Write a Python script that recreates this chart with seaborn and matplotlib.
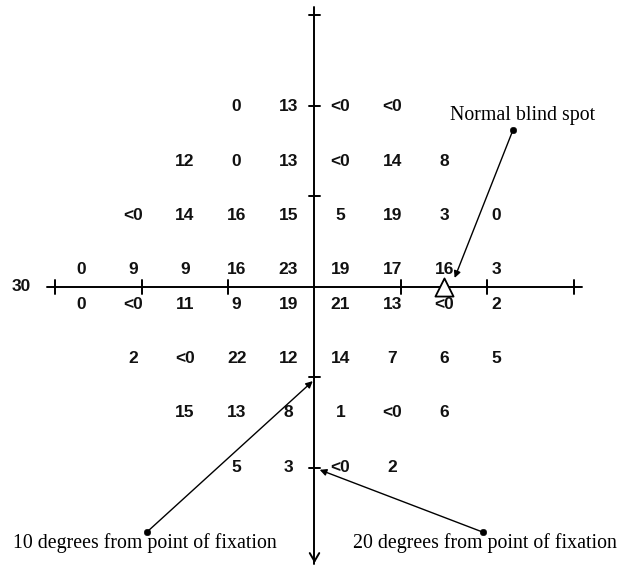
import matplotlib
matplotlib.use("Agg")
import matplotlib.pyplot as plt
import seaborn as sns
import pandas as pd
import numpy as np

# ---- data: visual field threshold values (dB), grid in degrees ----
col_deg = [-27, -21, -15, -9, -3, 3, 9, 15, 21, 27]
row_deg = [21, 15, 9, 3, -3, -9, -15, -21]
row_21 = ["", "", "", "0", "13", "<0", "<0", "", "", ""]
row_15 = ["", "", "12", "0", "13", "<0", "14", "8", "", ""]
row_9 = ["", "<0", "14", "16", "15", "5", "19", "3", "0", ""]
row_3 = ["0", "9", "9", "16", "23", "19", "17", "16", "3", ""]
row_m3 = ["0", "<0", "11", "9", "19", "21", "13", "<0", "2", ""]
row_m9 = ["", "2", "<0", "22", "12", "14", "7", "6", "5", ""]
row_m15 = ["", "", "15", "13", "8", "1", "<0", "6", "", ""]
row_m21 = ["", "", "", "5", "3", "<0", "2", "", "", ""]
rows = [row_21, row_15, row_9, row_3, row_m3, row_m9, row_m15, row_m21]

axis_ticks = [-30, -20, -10, 10, 20, 30]
blind_spot = (15, 0)
annotations = [
    ("Normal blind spot", (22.95, 17.35), (16.2, 1.0)),
    ("10 degrees from point of fixation", (-19.4, -27.1), (-0.2, -10.4)),
    ("20 degrees from point of fixation", (19.5, -27.1), (0.6, -20.2)),
]

# ---- figure ----
sns.set_style("white")
plt.rcParams['font.family'] = ['Liberation Sans Narrow', 'Liberation Sans', 'DejaVu Sans']
fig = plt.figure(figsize=(6.18, 5.67), dpi=100)
ax = fig.add_axes([0, 0, 1, 1])
ax.set_xlim(-36.36, 35.09)
ax.set_ylim(-30.94, 31.71)
ax.axis("off")

# axis cross with tick marks
segs = []
sid = 0
def add(x0, y0, x1, y1):
    global sid
    segs.append({"x": x0, "y": y0, "seg": sid})
    segs.append({"x": x1, "y": y1, "seg": sid})
    sid += 1

add(-30.9, 0, 30.9, 0)
add(0, 30.9, 0, -30.6)
for t in axis_ticks:
    add(t, -0.75, t, 0.75)
    if t != -30:
        add(-0.6, t, 0.6, t)
add(-0.55, -29.4, 0, -30.3)
add(0.55, -29.4, 0, -30.3)
seg_df = pd.DataFrame(segs)
sns.lineplot(data=seg_df, x="x", y="y", units="seg", estimator=None,
             sort=False, color="black", lw=1.4, ax=ax, legend=False)

# values
off = 1.1
num_font = dict(fontsize=12.5, fontweight="bold", ha="center", va="center",
                color="#111111",
                family=['Liberation Sans Narrow', 'Liberation Sans', 'DejaVu Sans'])
for ry, vals in zip(row_deg, rows):
    for cx, v in zip(col_deg, vals):
        if v:
            ax.text(cx, ry - np.sign(ry) * off, v, **num_font)
ax.text(-33.9, 0, "30", **num_font)

# blind spot marker
sns.scatterplot(x=[blind_spot[0]], y=[blind_spot[1]], marker="^", s=170,
                facecolor="white", edgecolor="black", linewidth=1.3, ax=ax,
                zorder=5)

# annotations
dots = pd.DataFrame({"x": [a[1][0] for a in annotations],
                     "y": [a[1][1] for a in annotations]})
sns.scatterplot(data=dots, x="x", y="y", color="black", s=22, ax=ax,
                edgecolor="black", zorder=6)
for txt, start, tip in annotations:
    ax.annotate("", xy=tip, xytext=start,
                arrowprops=dict(arrowstyle="-|>", color="black", lw=1.0,
                                mutation_scale=10, shrinkA=0, shrinkB=0))
serif = dict(family=['Liberation Serif', 'DejaVu Serif'], fontsize=14.3,
             va="center", color="black")
ax.text(15.66, 18.9, "Normal blind spot", ha="left", **serif)
ax.text(-34.9, -28.3, "10 degrees from point of fixation", ha="left", **serif)
ax.text(4.45, -28.3, "20 degrees from point of fixation", ha="left", **serif)

ax.set_xlabel("")
ax.set_ylabel("")
fig.savefig("out.png", dpi=100)
